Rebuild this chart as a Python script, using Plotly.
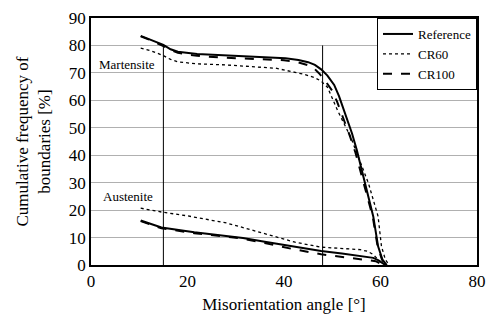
import plotly.graph_objects as go

# Martensite
m_ref_x = [10.3, 12.5, 15, 16.5, 18, 22, 28, 34, 40.3, 43, 45, 46.4, 47.7, 49, 50.4, 51.4, 52.4, 54.1, 55.1, 56.8, 58.5, 59.5, 60.4, 61.3]
m_ref_y = [83.5, 82.0, 80.2, 78.6, 77.7, 76.9, 76.3, 75.8, 75.3, 74.7, 73.9, 72.9, 71.3, 69.0, 65.6, 61.5, 56.5, 47.9, 41.8, 29.8, 17.7, 6.8, 2.0, 0.0]
m_cr100_x = [10.3, 12.5, 15, 16.5, 18, 22, 28, 34, 40, 43, 45, 46.3, 47.3, 48.5, 50, 51, 52, 53.7, 54.8, 56.6, 58.4, 59.4, 60.3, 61.1]
m_cr100_y = [83.3, 81.8, 79.8, 78.3, 77.3, 76.2, 75.5, 75.1, 74.6, 73.8, 72.8, 71.5, 69.8, 67.2, 63.5, 59.5, 55.0, 46.8, 41.0, 29.5, 17.5, 6.8, 2.0, 0.0]
m_cr60_x = [10.3, 12.5, 15, 16.5, 18, 22, 28, 33, 38.3, 42.3, 44.3, 46.3, 47.7, 49, 50, 51.1, 53.8, 55.5, 57.5, 59.5, 60.2, 61.0, 61.8]
m_cr60_y = [79.0, 78.0, 76.3, 74.9, 74.0, 73.3, 72.9, 72.3, 71.7, 70.2, 69.4, 68.3, 67.0, 64.8, 61.0, 56.3, 46.7, 38.8, 29.8, 17.7, 6.8, 2.0, 0.0]

# Austenite
a_ref_x = [10.3, 14.6, 21.4, 31.5, 36, 41.6, 47.7, 52, 55.8, 57.5, 58.5, 59.5, 60.2, 61.0]
a_ref_y = [16.2, 13.7, 11.9, 9.8, 8.5, 6.8, 5.1, 4.2, 3.4, 3.0, 2.6, 1.8, 0.8, 0.0]
a_cr100_x = [10.3, 14.6, 21.4, 31.5, 36, 41.6, 47.7, 52, 55.8, 57.5, 59.0, 60.0, 60.7]
a_cr100_y = [16.0, 13.4, 11.6, 9.6, 8.0, 5.9, 3.9, 2.9, 2.2, 1.9, 1.4, 0.5, 0.0]
a_cr60_x = [10.3, 14.6, 20, 28.1, 33, 38.3, 42.3, 47.7, 52, 55.8, 57.3, 58.5, 59.5, 60.2, 61.5]
a_cr60_y = [20.7, 19.3, 17.9, 15.3, 12.9, 10.4, 8.3, 6.5, 6.0, 5.6, 5.0, 3.8, 2.0, 0.8, 0.0]

x_ticks = [0, 20, 40, 60, 80]
y_ticks = [0, 10, 20, 30, 40, 50, 60, 70, 80, 90]
vlines = [15, 48]

font = "Times New Roman, Liberation Serif, DejaVu Serif, serif"

fig = go.Figure()

styles = [("Reference", "solid", 2.0), ("CR60", "dot", 1.3), ("CR100", "dash", 2.0)]
m_data = [(m_ref_x, m_ref_y), (m_cr60_x, m_cr60_y), (m_cr100_x, m_cr100_y)]
a_data = [(a_ref_x, a_ref_y), (a_cr60_x, a_cr60_y), (a_cr100_x, a_cr100_y)]

for (name, dash, w), (mx, my), (ax, ay) in zip(styles, m_data, a_data):
    fig.add_trace(go.Scatter(x=mx, y=my, mode="lines", name=name, legendgroup=name,
                             line=dict(color="black", dash=dash, width=w)))
    fig.add_trace(go.Scatter(x=ax, y=ay, mode="lines", name=name, legendgroup=name, showlegend=False,
                             line=dict(color="black", dash=dash, width=w)))

for v in vlines:
    fig.add_shape(type="line", x0=v, x1=v, y0=0, y1=80, xref="x", yref="y",
                  line=dict(color="black", width=1))

fig.add_annotation(x=1.2, y=73, text="Martensite", showarrow=False, xanchor="left",
                   font=dict(family=font, size=13, color="black"))
fig.add_annotation(x=2.0, y=25, text="Austenite", showarrow=False, xanchor="left",
                   font=dict(family=font, size=13, color="black"))

fig.update_layout(
    width=495, height=325,
    margin=dict(l=91, r=9, t=17, b=60),
    plot_bgcolor="white", paper_bgcolor="white",
    font=dict(family=font, size=16, color="black"),
    showlegend=True,
    legend=dict(x=1, y=1, xanchor="right", yanchor="top", bordercolor="black", borderwidth=1,
                bgcolor="white", font=dict(family=font, size=13), tracegroupgap=0,
                itemwidth=30),
    xaxis=dict(range=[0, 80], tickvals=x_ticks, showgrid=False, zeroline=False,
               showline=True, linecolor="black", linewidth=1.5, mirror=True, ticks="",
               title=dict(text="Misorientation angle [°]", font=dict(family=font, size=17), standoff=8),
               tickfont=dict(family=font, size=17)),
    yaxis=dict(range=[0, 90], tickvals=y_ticks, showgrid=True, gridcolor="#b0b0b0", gridwidth=1.2,
               zeroline=False, showline=True, linecolor="black", linewidth=1.5, mirror=True, ticks="",
               title=dict(text="Cumulative frequency of<br>boundaries [%]", font=dict(family=font, size=17), standoff=14),
               tickfont=dict(family=font, size=17)),
)

fig.write_html("out.html")
